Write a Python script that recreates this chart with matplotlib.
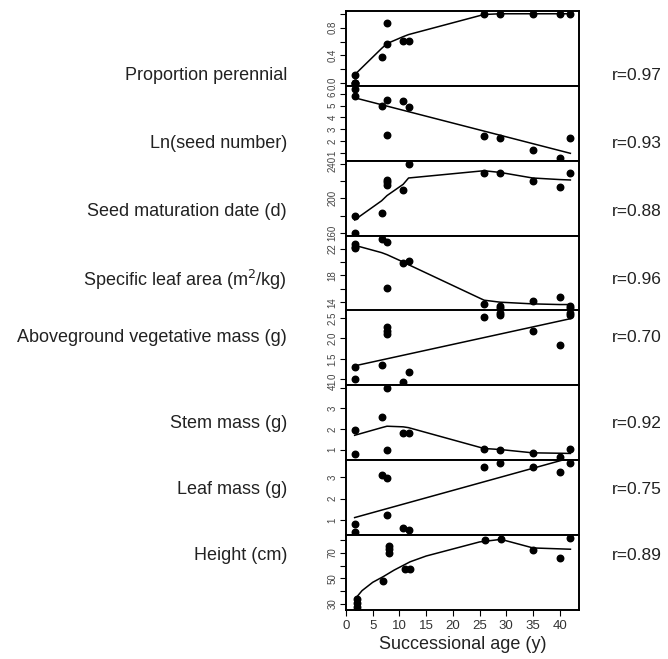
import numpy as np
import matplotlib
matplotlib.use('Agg')
import matplotlib.pyplot as plt

plt.rcParams['font.family'] = ['Liberation Sans', 'DejaVu Sans']

# successional age of each sampled field (y)
ages = [2, 7, 8, 11, 12, 26, 29, 35, 40, 42]

# points per panel: (x, y)
perennial_x = [2, 2, 2, 2, 7, 8, 8, 11, 12, 26, 29, 35, 40, 42]
perennial_y = [0.12, 0.0, 0.0, 0.0, 0.38, 0.86, 0.57, 0.61, 0.61, 0.99, 1.0, 1.0, 1.0, 1.0]
perennial_fit = [0.12, 0.50, 0.57, 0.67, 0.70, 0.99, 1.0, 1.0, 1.0, 1.0]

seed_x = [2, 2, 7, 8, 8, 11, 12, 26, 29, 35, 40, 42]
seed_y = [5.78, 6.43, 4.99, 5.5, 2.51, 5.36, 4.9, 2.39, 2.25, 1.24, 0.56, 2.25]
seed_fit_x = [2, 42]
seed_fit = [5.67, 0.96]

matur_x = [2, 2, 7, 8, 8, 8, 11, 12, 26, 29, 35, 40, 42]
matur_y = [179.5, 160, 182.5, 221, 218.2, 215.6, 209.8, 240, 229.4, 228.6, 219.4, 212.4, 229.4]
matur_fit = [174.9, 197, 203, 216, 223.3, 231.7, 229.7, 223.3, 221.5, 221]

sla_x = [2, 2, 2, 7, 8, 8, 11, 12, 26, 29, 29, 35, 40, 42, 42]
sla_y = [22.7, 22.3, 22.1, 23.5, 22.95, 16.1, 19.8, 20.2, 13.76, 13.4, 13.2, 14.15, 14.85, 13.36, 13.2]
sla_fit = [22.5, 21.4, 21.1, 20.0, 19.6, 14.3, 14.0, 13.75, 13.65, 13.65]

veg_x = [2, 2, 7, 8, 8, 8, 11, 12, 26, 29, 29, 35, 40, 42, 42]
veg_y = [1.30, 1.0, 1.36, 2.27, 2.19, 2.11, 0.93, 1.19, 2.53, 2.61, 2.57, 2.17, 1.85, 2.61, 2.57]
veg_fit_x = [2, 42]
veg_fit = [1.33, 2.48]

stem_x = [2, 2, 7, 8, 8, 11, 12, 26, 29, 35, 40, 42]
stem_y = [1.93, 0.77, 2.59, 4.0, 1.0, 1.82, 1.82, 1.01, 1.0, 0.81, 0.64, 1.01]
stem_fit = [1.69, 2.06, 2.13, 2.1, 2.06, 1.05, 1.0, 0.84, 0.82, 0.81]

leaf_x = [2, 2, 7, 8, 8, 11, 12, 26, 29, 35, 40, 42]
leaf_y = [0.83, 0.43, 3.08, 2.97, 1.22, 0.64, 0.53, 3.47, 3.66, 3.47, 3.23, 3.66]
leaf_fit_x = [2, 42]
leaf_fit = [1.11, 3.90]

height_x = [2, 2, 2, 7, 8, 8, 8, 11, 12, 26, 29, 35, 40, 42]
height_y = [33.6, 30.5, 28.0, 47.9, 75.4, 73.3, 70.2, 57.5, 57.5, 79.8, 81.0, 72.3, 65.9, 81.3]
height_fit_x = [2, 3, 5, 7, 9, 12, 15, 20, 25, 29, 35, 42]
height_fit = [35.5, 40.5, 47, 51.5, 56.5, 63, 67.5, 73, 78.5, 80.5, 73.8, 72.8]

names = ['Proportion perennial', 'Ln(seed number)', 'Seed maturation date (d)',
         'Specific leaf area (m$^2$/kg)', 'Aboveground vegetative mass (g)',
         'Stem mass (g)', 'Leaf mass (g)', 'Height (cm)']
r_values = ['r=0.97', 'r=0.93', 'r=0.88', 'r=0.96', 'r=0.70', 'r=0.92', 'r=0.75', 'r=0.89']

panels = [
    (perennial_x, perennial_y, ages, perennial_fit, (-0.04, 1.04),
     [0, 0.2, 0.4, 0.6, 0.8, 1.0], ['0.0', '', '0.4', '', '0.8', '']),
    (seed_x, seed_y, seed_fit_x, seed_fit, (0.33, 6.68),
     [1, 2, 3, 4, 5, 6], ['1', '2', '3', '4', '5', '6']),
    (matur_x, matur_y, ages, matur_fit, (156.8, 243.2),
     [160, 180, 200, 220, 240], ['160', '', '200', '', '240']),
    (sla_x, sla_y, ages, sla_fit, (12.76, 23.94),
     [14, 16, 18, 20, 22], ['14', '', '18', '', '22']),
    (veg_x, veg_y, veg_fit_x, veg_fit, (0.854, 2.68),
     [1.0, 1.5, 2.0, 2.5], ['1.0', '1.5', '2.0', '2.5']),
    (stem_x, stem_y, ages, stem_fit, (0.48, 4.11),
     [1, 2, 3, 4], ['1', '2', '3', '4']),
    (leaf_x, leaf_y, leaf_fit_x, leaf_fit, (0.29, 3.79),
     [1, 2, 3], ['1', '2', '3']),
    (height_x, height_y, height_fit_x, height_fit, (25.4, 83.8),
     [30, 40, 50, 60, 70, 80], ['30', '', '50', '', '70', '']),
]

# label heights in pixels from the top
label_px = [75, 143, 212, 280, 338, 424, 490, 556]

W, H = 668, 659
fig = plt.figure(figsize=(W / 100, H / 100), dpi=100)
left, right = 346 / W, 579 / W
top, bottom = 1 - 11 / H, 1 - 610 / H
ph = (top - bottom) / 8

for i, (px, py, fx, fy, ylim, yt, ytl) in enumerate(panels):
    ax = fig.add_axes([left, top - (i + 1) * ph, right - left, ph])
    ax.scatter(px, py, s=22, color='black', zorder=3)
    ax.plot(fx, fy, color='black', lw=1.1)
    ax.set_xlim(0.4, 43.6)
    ax.set_ylim(*ylim)
    ax.set_yticks(yt)
    ax.set_yticklabels(ytl, rotation=90, va='center', fontsize=7, color='#444444')
    ax.tick_params(axis='y', direction='out', length=4, width=0.8, pad=2)
    for s in ax.spines.values():
        s.set_linewidth(1.4)
    if i < 7:
        ax.tick_params(axis='x', bottom=False, labelbottom=False)
    else:
        ax.set_xticks(range(0, 45, 5))
        ax.tick_params(axis='x', direction='out', length=4, width=0.8, labelsize=9.5, pad=3,
                       labelcolor='#333333')
        ax.set_xlabel('Successional age (y)', fontsize=13, color='#222222', labelpad=3)
    fig.text(287 / W, 1 - label_px[i] / H, names[i], ha='right', va='center',
             fontsize=13, color='#222222')
    fig.text(612 / W, 1 - label_px[i] / H, r_values[i], ha='left', va='center',
             fontsize=12.5, color='#222222')

fig.savefig('out.png', dpi=100)
